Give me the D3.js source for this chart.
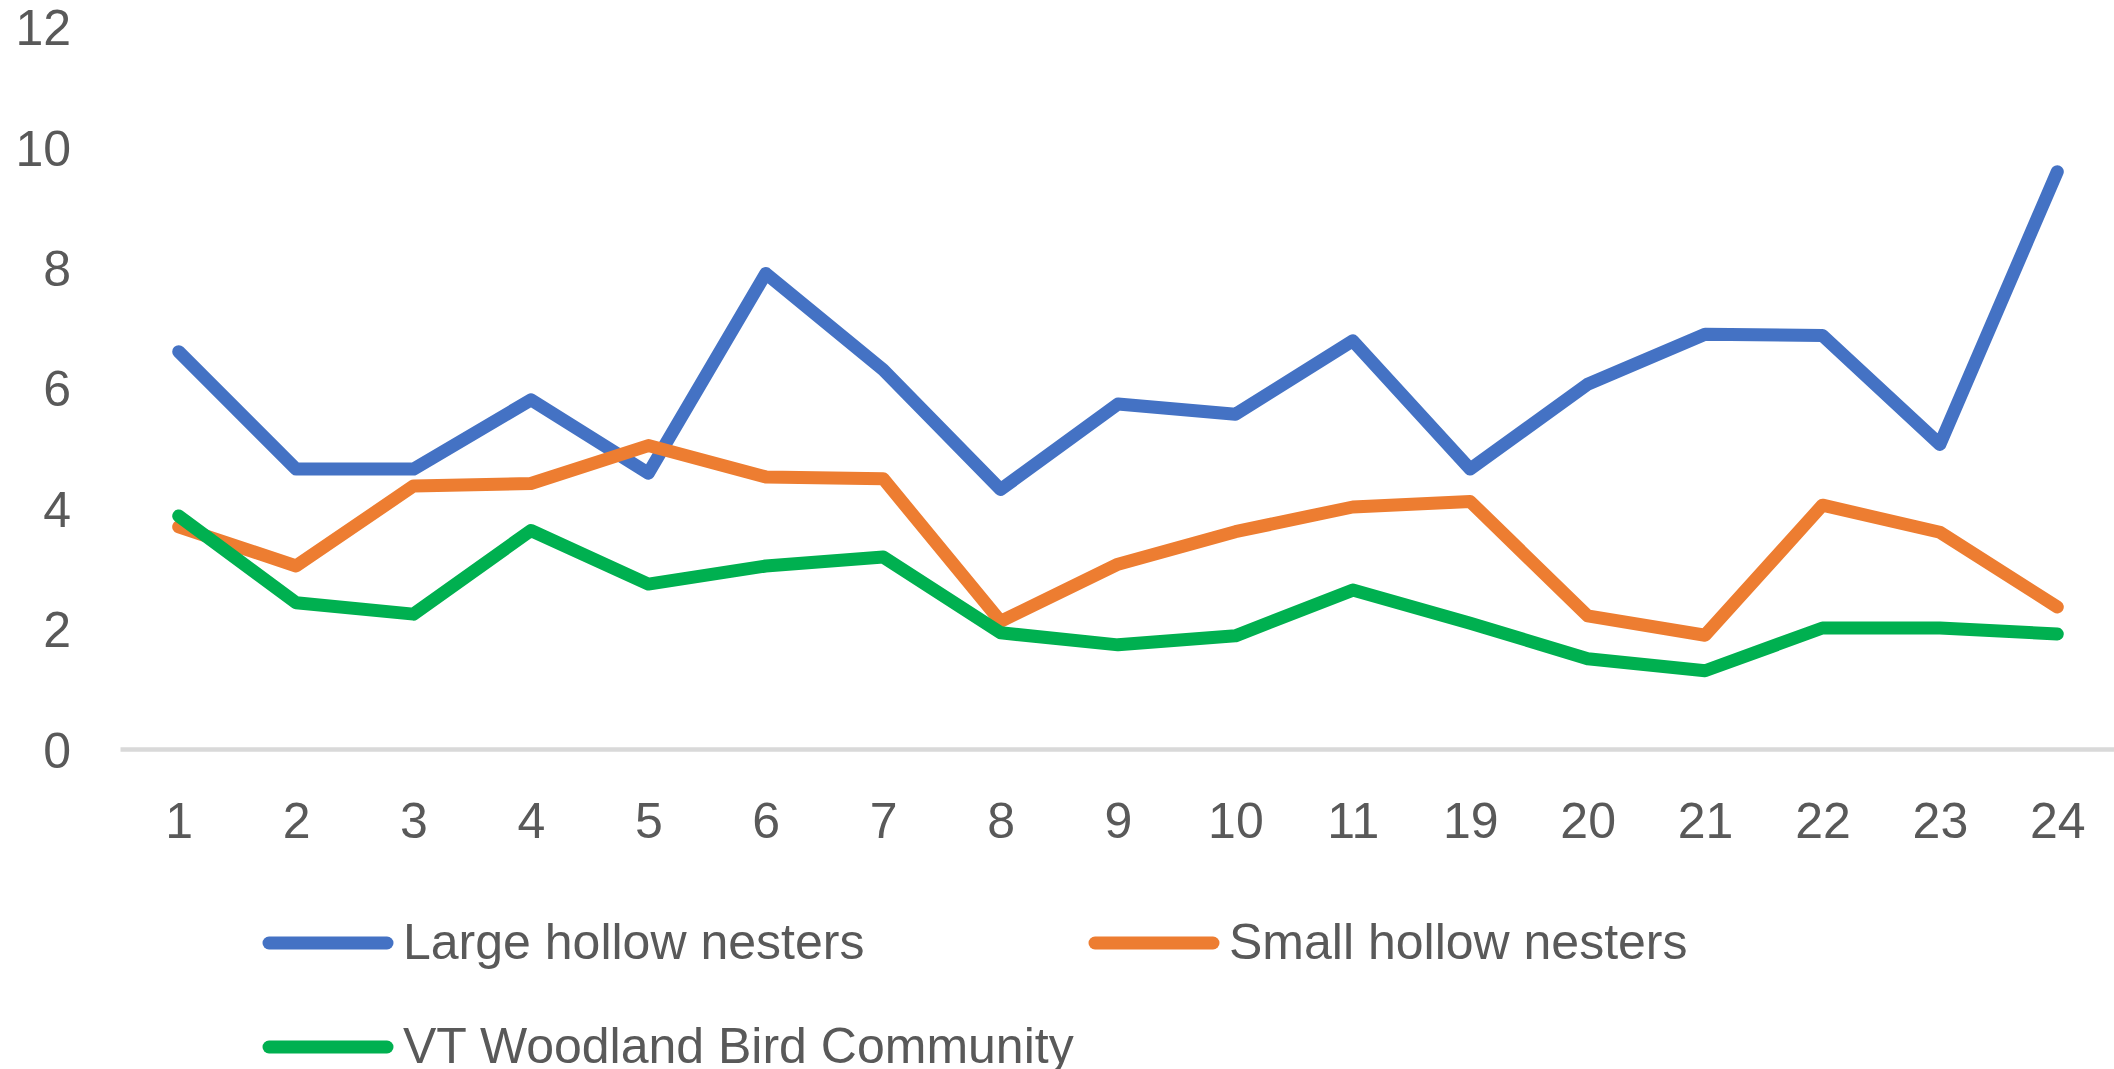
<!DOCTYPE html>
<html>
<head>
<meta charset="utf-8">
<script src="https://cdn.jsdelivr.net/npm/d3@7"></script>
<style>
    body { margin: 0; background: #ffffff; }
    text { font-family: "Liberation Sans", Arial, sans-serif; }
</style>
</head>
<body>
<svg id="chart"></svg>
<script>
// Data
const categories = ["1", "2", "3", "4", "5", "6", "7", "8", "9", "10", "11", "19", "20", "21", "22", "23", "24"];
const largeHollow = [6.60, 4.65, 4.65, 5.80, 4.58, 7.90, 6.30, 4.31, 5.73, 5.56, 6.78, 4.65, 6.06, 6.89, 6.87, 5.06, 9.59];
const smallHollow = [3.69, 3.04, 4.37, 4.41, 5.04, 4.52, 4.49, 2.12, 3.07, 3.61, 4.02, 4.11, 2.21, 1.89, 4.05, 3.60, 2.36];
const woodland = [3.87, 2.43, 2.24, 3.63, 2.74, 3.04, 3.19, 1.93, 1.73, 1.88, 2.64, 2.09, 1.50, 1.30, 2.01, 2.01, 1.91];
const yTicks = [0, 2, 4, 6, 8, 10, 12];

const seriesNames = ["Large hollow nesters", "Small hollow nesters", "VT Woodland Bird Community"];
const seriesColors = ["#4472C4", "#ED7D31", "#00B050"];

const width = 2114;
const height = 1069;
const textColor = "#595959";
const fontSize = 50;

const series = [largeHollow, smallHollow, woodland].map((values, i) => ({
    name: seriesNames[i],
    color: seriesColors[i],
    values: values
}));

const svg = d3.select("#chart")
    .attr("width", width)
    .attr("height", height)
    .attr("viewBox", `0 0 ${width} ${height}`);

svg.append("rect")
    .attr("width", width)
    .attr("height", height)
    .attr("fill", "#ffffff");

// Scales
const xScale = d3.scalePoint()
    .domain(categories)
    .range([120, 2116])
    .padding(0.5);

const yScale = d3.scaleLinear()
    .domain([0, 12])
    .range([749, 26.6]);

// Left axis (labels only)
const leftAxis = d3.axisLeft(yScale)
    .tickValues(yTicks)
    .tickSize(0)
    .tickPadding(0);

const yAxisG = svg.append("g")
    .attr("transform", "translate(71,0)")
    .call(leftAxis);
yAxisG.select(".domain").remove();
yAxisG.selectAll("text")
    .attr("fill", textColor)
    .attr("font-size", fontSize)
    .attr("font-family", "'Liberation Sans', Arial, sans-serif")
    .attr("dy", "0.36em");

// Bottom axis
const bottomAxis = d3.axisBottom(xScale)
    .tickSize(0)
    .tickSizeOuter(0)
    .tickPadding(53);

const xAxisG = svg.append("g")
    .attr("transform", `translate(0,${yScale(0)})`)
    .call(bottomAxis);
xAxisG.select(".domain")
    .attr("stroke", "#D9D9D9")
    .attr("stroke-width", 4.5);
xAxisG.selectAll("text")
    .attr("fill", textColor)
    .attr("font-size", fontSize)
    .attr("font-family", "'Liberation Sans', Arial, sans-serif");

// Lines
const line = d3.line()
    .x((d, i) => xScale(categories[i]))
    .y(d => yScale(d));

svg.append("g")
    .selectAll("path")
    .data(series)
    .join("path")
    .attr("d", d => line(d.values))
    .attr("fill", "none")
    .attr("stroke", d => d.color)
    .attr("stroke-width", 13)
    .attr("stroke-linejoin", "round")
    .attr("stroke-linecap", "round");

// Legend
const legendPos = [
    { x: 269, y: 943 },
    { x: 1095, y: 943 },
    { x: 269, y: 1047 }
];

const legend = svg.append("g")
    .selectAll("g")
    .data(series)
    .join("g")
    .attr("transform", (d, i) => `translate(${legendPos[i].x},${legendPos[i].y})`);

legend.append("line")
    .attr("x1", 0)
    .attr("x2", 118)
    .attr("stroke", d => d.color)
    .attr("stroke-width", 13)
    .attr("stroke-linecap", "round");

legend.append("text")
    .text(d => d.name)
    .attr("x", 134)
    .attr("y", 16)
    .attr("fill", textColor)
    .attr("font-size", fontSize);
</script>
</body>
</html>
